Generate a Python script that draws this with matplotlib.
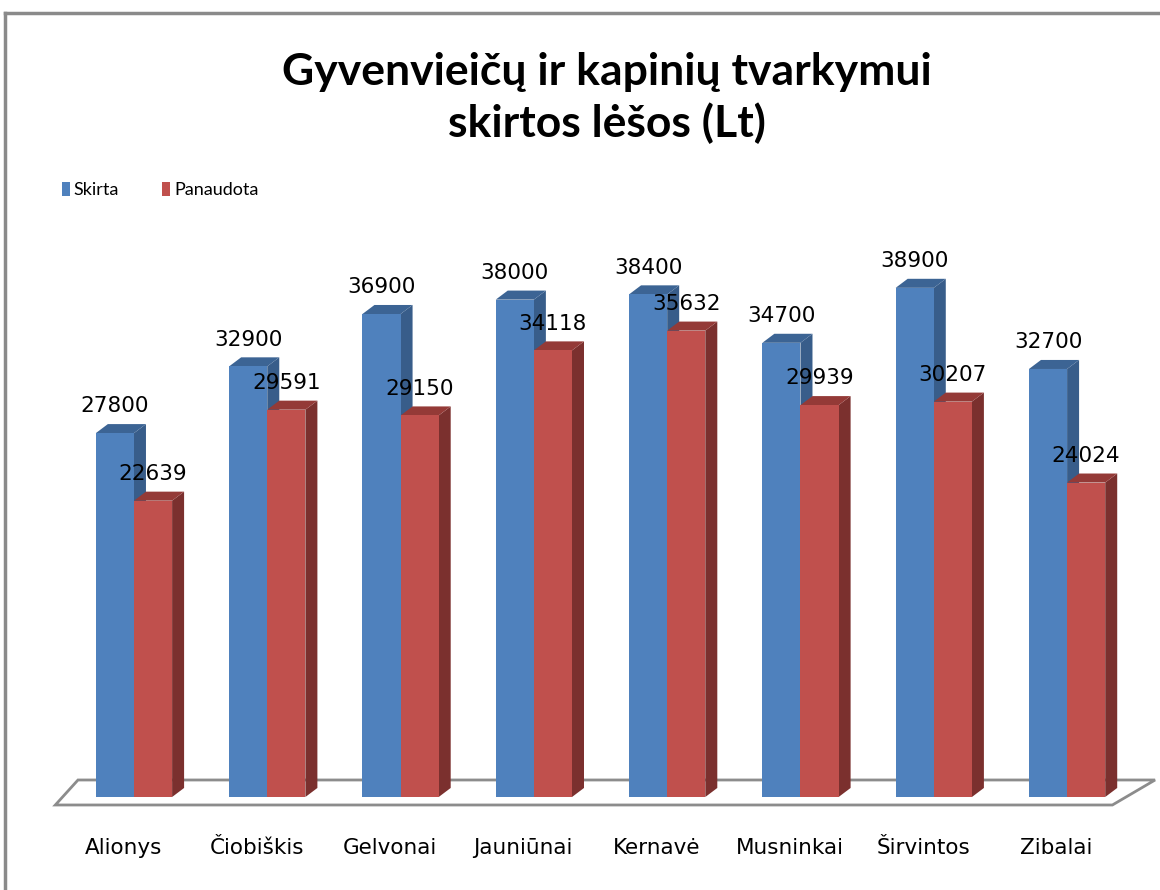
#!/usr/bin/env python3

# Import Packages
import matplotlib
matplotlib.use('Agg')
import matplotlib.pyplot as plt # Matplotlib plot
from matplotlib.patches import Polygon
from matplotlib.lines import Line2D

# Chart data
categories = ['Alionys', 'Čiobiškis', 'Gelvonai', 'Jauniūnai',
              'Kernavė', 'Musninkai', 'Širvintos', 'Zibalai']
skirta = [27800, 32900, 36900, 38000, 38400, 34700, 38900, 32700]
panaudota = [22639, 29591, 29150, 34118, 35632, 29939, 30207, 24024]
series_names = ['Skirta', 'Panaudota']
title = 'Gyvenvieičų ir kapinių tvarkymui\nskirtos lėšos (Lt)'

# Style
front = ['#4F81BD', '#C0504D']
side = ['#385D8A', '#7B302E']
top = ['#3C6494', '#943A37']
w = 0.286      # bar width (category units)
dx = 0.09      # 3D depth, x
dy = 690       # 3D depth, y (value units)

fig = plt.figure(figsize=(11.6, 8.9), dpi=100)
ax = fig.add_axes([0, 0, 1, 1])
ax.set_xlim(-1.005, 7.697)
ax.set_ylim(-7105, 60890)
ax.axis('off')

# Floor
floor = Polygon([(-0.59, -610), (7.34, -610), (7.66, 1300), (-0.42, 1300)],
                closed=True, facecolor='white', edgecolor='#8C8C8C', lw=2, zorder=1)
ax.add_patch(floor)

# 3D bars
def bar3d(x0, h, k):
    ax.bar(x0, h, width=w, align='edge', color=front[k], zorder=3)
    ax.add_patch(Polygon([(x0 + w, 0), (x0 + w + dx, dy), (x0 + w + dx, h + dy), (x0 + w, h)],
                         closed=True, facecolor=side[k], edgecolor='none', zorder=2))
    ax.add_patch(Polygon([(x0, h), (x0 + w, h), (x0 + w + dx, h + dy), (x0 + dx, h + dy)],
                         closed=True, facecolor=top[k], edgecolor='none', zorder=2))
    ax.text(x0 + w / 2, h + dy + 1350, f'{h}', ha='center', va='center',
            fontsize=15.5, family='DejaVu Sans', color='black', zorder=5)

for i in range(len(categories)):
    bar3d(i - w, skirta[i], 0)
    bar3d(i, panaudota[i], 1)
    ax.text(i - 0.08, -3900, categories[i], ha='center', va='center',
            fontsize=15.5, family='DejaVu Sans')

# Title
fig.text(0.523, 0.890, title, ha='center', va='center', fontsize=32,
         fontweight='bold', family='Lato', linespacing=1.3)

# Legend
for k, (x_box, x_txt) in enumerate([(0.0535, 0.0635), (0.1395, 0.1505)]):
    fig.patches.append(plt.Rectangle((x_box, 0.7795), 0.007, 0.0155, transform=fig.transFigure,
                                     facecolor=front[k], edgecolor='none'))
    fig.text(x_txt, 0.787, series_names[k], ha='left', va='center', fontsize=13, family='Lato')

# Chart border
fig.add_artist(Line2D([0.0045, 1.0], [0.985, 0.985], color='#8A8A8A', lw=2.5, transform=fig.transFigure))
fig.add_artist(Line2D([0.0045, 0.0045], [0.0, 0.985], color='#8A8A8A', lw=2.5, transform=fig.transFigure))

fig.savefig('out.png', dpi=100)
